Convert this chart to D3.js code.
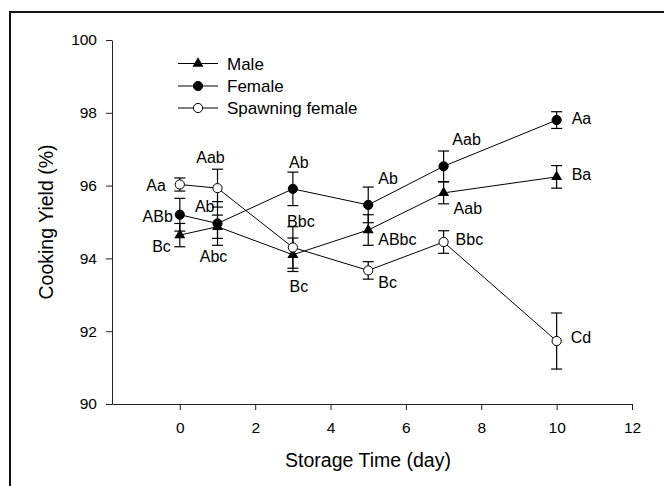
<!DOCTYPE html>
<html>
<head>
<meta charset="utf-8">
<script src="https://cdn.jsdelivr.net/npm/d3@7"></script>
<style>
  body { margin: 0; background: #fff; }
  text { font-family: "Liberation Sans", Arial, sans-serif; fill: #000; }
</style>
</head>
<body>
<div class="chart"></div>
<script>
// data

var days = [0, 1, 3, 5, 7, 10];

var male = [94.64, 94.87, 94.10, 94.78, 95.80, 96.24];
var male_err = [0.32, 0.32, 0.46, 0.42, 0.30, 0.31];
var male_letters = ["Bc", "Abc", "Bc", "ABbc", "Aab", "Ba"];

var female = [95.20, 94.96, 95.91, 95.47, 96.53, 97.80];
var female_err = [0.45, 0.60, 0.46, 0.49, 0.42, 0.23];
var female_letters = ["ABb", "Ab", "Ab", "Ab", "Aab", "Aa"];

var spawning = [96.03, 95.93, 94.30, 93.67, 94.45, 91.73];
var spawning_err = [0.18, 0.52, 0.57, 0.24, 0.31, 0.77];
var spawning_letters = ["Aa", "Aab", "Bbc", "Bc", "Bbc", "Cd"];

var x_ticks = [0, 2, 4, 6, 8, 10, 12];
var y_ticks = [90, 92, 94, 96, 98, 100];

// where each letter sits next to its point (anchor, dx, dy in px)
var male_place = [["end", -9, 17], ["middle", -4, 35], ["middle", 6, 37], ["start", 10, 15], ["start", 10, 21], ["start", 15, 3]];
var female_place = [["end", -7, 7], ["end", -3, -11], ["middle", 6, -21], ["start", 10, -21], ["middle", 23, -21], ["start", 15, 4]];
var spawning_place = [["end", -14, 6], ["middle", -7, -25], ["middle", 8, -20], ["start", 10, 18], ["start", 12, 3], ["start", 14, 2]];

var width = 664, height = 486;

var svg = d3.select('.chart')
    .append('svg')
        .attr('width', width)
        .attr('height', height)
        .style('display', 'block');

// frame round the figure (runs off the right and bottom)
svg.append('rect')
    .attr('x', 10).attr('y', 12)
    .attr('width', 700).attr('height', 520)
    .attr('fill', 'none')
    .attr('stroke', '#111')
    .attr('stroke-width', 2);

var x = d3.scaleLinear().domain([-1.8, 12]).range([112, 632]);
var y = d3.scaleLinear().domain([90, 100]).range([404, 40]);

var x_axis = svg.append('g')
    .attr('transform', 'translate(0,' + y(90) + ')')
    .call(d3.axisBottom(x).tickValues(x_ticks).tickSize(6).tickSizeOuter(0).tickPadding(12));

var y_axis = svg.append('g')
    .attr('transform', 'translate(' + x(-1.8) + ',0)')
    .call(d3.axisLeft(y).tickValues(y_ticks).tickSize(6).tickSizeOuter(0).tickPadding(9));

svg.selectAll('.tick text')
    .style('font-size', '15.5px')
    .attr('fill', '#000');
svg.selectAll('.domain, .tick line').attr('stroke', '#222');

svg.append('text')
    .attr('x', 368).attr('y', 467)
    .attr('text-anchor', 'middle')
    .style('font-size', '19.5px')
    .text('Storage Time (day)');

svg.append('text')
    .attr('transform', 'translate(53,222) rotate(-90)')
    .attr('text-anchor', 'middle')
    .style('font-size', '19.5px')
    .text('Cooking Yield (%)');

var series = [
    {name: 'Male', values: male, err: male_err, letters: male_letters, place: male_place, mark: 'triangle'},
    {name: 'Female', values: female, err: female_err, letters: female_letters, place: female_place, mark: 'dot'},
    {name: 'Spawning female', values: spawning, err: spawning_err, letters: spawning_letters, place: spawning_place, mark: 'open'}
];

var line = d3.line()
    .x(function(d) { return x(d[0]); })
    .y(function(d) { return y(d[1]); });

var tri = d3.symbol().type(d3.symbolTriangle).size(52);

function drawMark(g, kind) {
    if (kind === 'triangle') {
        g.append('path').attr('d', tri).attr('fill', '#000');
    } else {
        g.append('circle').attr('r', 4.6)
            .attr('fill', kind === 'dot' ? '#000' : '#fff')
            .attr('stroke', '#000').attr('stroke-width', 1);
    }
}

// lines
series.forEach(function(s) {
    svg.append('path')
        .datum(d3.zip(days, s.values))
        .attr('d', line)
        .attr('fill', 'none')
        .attr('stroke', '#000')
        .attr('stroke-width', 1);
});

// error bars
series.forEach(function(s) {
    var eb = svg.append('g').selectAll('g')
        .data(d3.zip(days, s.values, s.err))
        .enter()
        .append('g');
    eb.append('line')
        .attr('x1', function(d) { return x(d[0]); })
        .attr('x2', function(d) { return x(d[0]); })
        .attr('y1', function(d) { return y(d[1] - d[2]); })
        .attr('y2', function(d) { return y(d[1] + d[2]); });
    eb.append('line')
        .attr('x1', function(d) { return x(d[0]) - 5.5; })
        .attr('x2', function(d) { return x(d[0]) + 5.5; })
        .attr('y1', function(d) { return y(d[1] + d[2]); })
        .attr('y2', function(d) { return y(d[1] + d[2]); });
    eb.append('line')
        .attr('x1', function(d) { return x(d[0]) - 5.5; })
        .attr('x2', function(d) { return x(d[0]) + 5.5; })
        .attr('y1', function(d) { return y(d[1] - d[2]); })
        .attr('y2', function(d) { return y(d[1] - d[2]); });
    eb.selectAll('line').attr('stroke', '#000').attr('stroke-width', 1.2);
});

// markers + letters
series.forEach(function(s) {
    var pts = svg.append('g').selectAll('g')
        .data(d3.zip(days, s.values))
        .enter()
        .append('g')
            .attr('transform', function(d) { return 'translate(' + x(d[0]) + ',' + y(d[1]) + ')'; });
    pts.each(function() { drawMark(d3.select(this), s.mark); });

    svg.append('g').selectAll('text')
        .data(d3.zip(days, s.values, s.letters, s.place))
        .enter()
        .append('text')
            .attr('x', function(d) { return x(d[0]) + d[3][1]; })
            .attr('y', function(d) { return y(d[1]) + d[3][2]; })
            .attr('text-anchor', function(d) { return d[3][0]; })
            .style('font-size', '16px')
            .text(function(d) { return d[2]; });
});

// legend
var legend = svg.append('g').selectAll('g')
    .data(series)
    .enter()
    .append('g')
        .attr('transform', function(d, i) { return 'translate(178,' + [63.5, 86, 108][i] + ')'; });

legend.append('line')
    .attr('x1', 0).attr('x2', 40)
    .attr('stroke', '#000').attr('stroke-width', 1);
legend.each(function(d) {
    var g = d3.select(this).append('g').attr('transform', 'translate(20,0)');
    drawMark(g, d.mark);
});
legend.append('text')
    .attr('x', 49).attr('dy', '0.36em')
    .style('font-size', '17px')
    .text(function(d) { return d.name; });
</script>
</body>
</html>
